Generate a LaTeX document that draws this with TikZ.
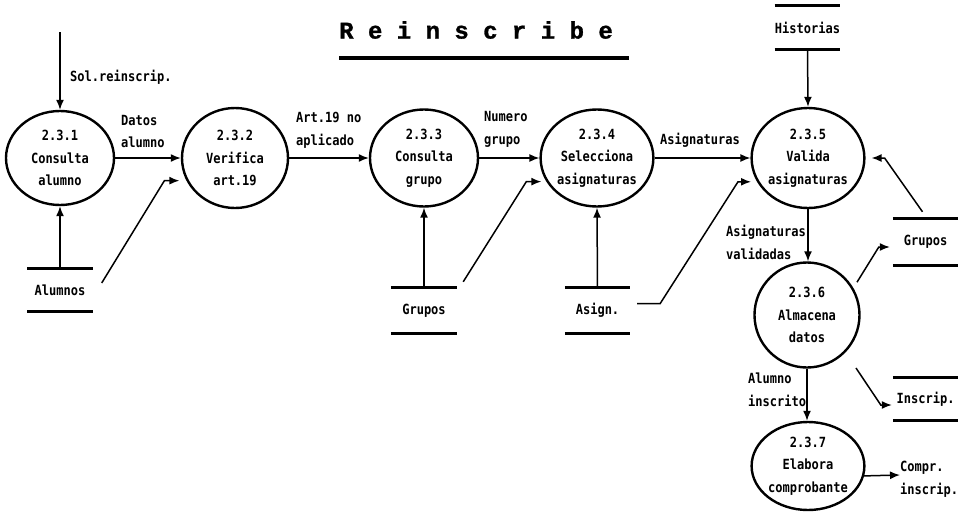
\documentclass[tikz,border=0pt]{standalone}
\usepackage{fontspec}
\setmonofont[FakeStretch=0.86]{DejaVu Sans Mono}
\newfontfamily\titlefont[FakeBold=1.2]{Liberation Mono}
\usetikzlibrary{shapes.geometric,arrows.meta}

\newcommand\dfdfont{\ttfamily\bfseries\fontsize{14}{22.5}\selectfont}

\tikzset{
  proc/.style={ellipse, draw, line width=2.4pt, inner sep=0pt,
    minimum width=108pt, minimum height=97pt, align=center, font=\dfdfont},
  store/.style={inner sep=0pt, minimum width=65pt, minimum height=43pt, font=\dfdfont},
  storeline/.style={line width=3pt},
  flow/.style={line width=1.5pt, -{Latex[length=10pt,width=8pt]}},
  lbl/.style={align=left, anchor=west, font=\dfdfont, inner sep=0pt},
}

\begin{document}
\begin{tikzpicture}[x=1pt,y=-1pt]
\useasboundingbox (0,0) rectangle (959,525);

% title
\node[anchor=west, inner sep=0pt, font=\titlefont\bfseries\fontsize{24}{24}\selectfont]
  (title) at (339,30) {R e i n s c r i b e};
\draw[line width=4pt] (339,58) -- (629,58);

% processes
\node[proc, minimum height=94pt] (c1) at (60,158) {2.3.1\\Consulta\\alumno};
\node[proc, minimum width=106pt, minimum height=100pt] (c2) at (235,158) {2.3.2\\Verifica\\art.19};
\node[proc] (c3) at (424,158) {2.3.3\\Consulta\\grupo};
\node[proc, minimum width=110pt] (c4) at (597,158) {2.3.4\\Selecciona\\asignaturas};
\node[proc, minimum width=110pt, minimum height=100pt] (c5) at (808,158) {2.3.5\\Valida\\asignaturas};
\node[proc, minimum width=105pt, minimum height=105pt] (c6) at (807,315) {2.3.6\\Almacena\\datos};
\node[proc, minimum width=110pt, minimum height=88pt] (c7) at (808,466) {2.3.7\\Elabora\\comprobante};

% data stores
\node[store, minimum height=42pt] (alum) at (60,290) {Alumnos};
\node[store, minimum height=45pt, minimum width=66pt] (grp1) at (424,310.5) {Grupos};
\node[store, minimum height=45pt] (asig) at (597.5,310.5) {Asign.};
\node[store, minimum height=43pt] (hist) at (807.5,27.5) {Historias};
\node[store, minimum height=46pt] (grp2) at (925.5,242) {Grupos};
\node[store, minimum height=42pt] (insc) at (925.5,399) {Inscrip.};
\foreach \s in {alum,grp1,asig,hist,grp2,insc}
  \draw[storeline] (\s.north west) -- (\s.north east) (\s.south west) -- (\s.south east);

% flows
\coordinate (solin) at (60,32);
\draw[flow] (solin) -- (c1.north);
\node[lbl] (lsol) at (70,77) {Sol.reinscrip.};

\draw[flow] (alum.north) -- (c1.south);
\draw[flow] (c1.east) -- (c2.west);
\node[lbl] (l12) at (121,131.5) {Datos\\alumno};
\draw[flow] ([shift={(9,-7)}]alum.east) -- ([shift={(-22,0)}]c2.205) -- ([shift={(-7,0)}]c2.205);

\draw[flow] (c2.east) -- (c3.west);
\node[lbl] (l23) at (296,130.5) {Art.19 no\\aplicado};
\draw[flow] (grp1.north) -- (c3.south);

\draw[flow] (c3.east) -- (c4.west);
\node[lbl] (l34) at (484,129.5) {Numero\\grupo};
\draw[flow] ([shift={(6,-6)}]grp1.north east) -- ([shift={(-20,0)}]c4.205) -- ([shift={(-5,0)}]c4.205);
\draw[flow] (asig.north) -- (c4.south);

\draw[flow] (c4.east) -- (c5.west);
\node[lbl] (l45) at (660,140) {Asignaturas};
\draw[flow] ([shift={(7,-7)}]asig.east) -- ++(23,0) -- ([shift={(-19,0)}]c5.205) -- ([shift={(-6,0)}]c5.205);
\draw[flow] (hist.south) -- (c5.north);
\draw[flow] ([shift={(-3,-7)}]grp2.north) -- ([shift={(19,0)}]c5.east) -- ([shift={(6,0)}]c5.east);

\draw[flow] (c5.south) -- (c5.south |- c6.north);
\node[lbl] (l56) at (726,242.5) {Asignaturas\\validadas};
\draw[flow] ([shift={(6,-2)}]c6.35) -- ([shift={(-14,5)}]grp2.west) -- ([shift={(-3,5)}]grp2.west);
\draw[flow] ([shift={(11,15)}]c6.-45) -- ([shift={(-12,6)}]insc.west) -- ([shift={(-1,6)}]insc.west);

\draw[flow] (c6.south) -- (c6.south |- c7.north);
\node[lbl] (l67) at (748,390) {Alumno\\inscrito};

\node[lbl] (compr) at (900,479.5) {Compr.\\inscrip.};
\draw[flow] (c7.-10) -- ([yshift=4.5pt]compr.west);
\end{tikzpicture}
\end{document}
